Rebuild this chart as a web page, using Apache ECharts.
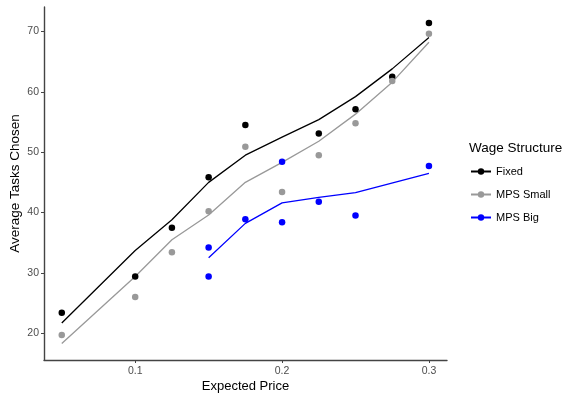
<!DOCTYPE html>
<html>
<head>
<meta charset="utf-8">
<script src="https://cdn.jsdelivr.net/npm/echarts@6/dist/echarts.min.js"></script>
<style>
  html, body { margin: 0; padding: 0; background: #fff; }
  #chart { width: 567px; height: 398px; }
</style>
</head>
<body>
<div id="chart"></div>
<script>
// Expected price levels shared by the Fixed and MPS Small groups
const prices = [0.05, 0.1, 0.125, 0.15, 0.175, 0.2, 0.225, 0.25, 0.275, 0.3];

// Observed averages (points)
const fixedPoints = [[0.05, 23.4], [0.1, 29.4], [0.125, 37.5], [0.15, 45.85], [0.175, 54.5],
                     [0.225, 53.1], [0.25, 57.1], [0.275, 62.5], [0.3, 71.4]];
const smallPoints = [[0.05, 19.7], [0.1, 26.0], [0.125, 33.4], [0.15, 40.2], [0.175, 50.9],
                     [0.2, 43.4], [0.225, 49.5], [0.25, 54.8], [0.275, 61.8], [0.3, 69.6]];
const bigPoints = [[0.15, 34.2], [0.15, 29.4], [0.175, 38.9], [0.2, 48.4], [0.2, 38.4],
                   [0.225, 41.8], [0.25, 39.5], [0.3, 47.7]];

// Fitted values (lines)
const fixedFit = [21.7, 33.7, 38.8, 45.0, 49.5, 52.5, 55.4, 59.2, 63.8, 69.0];
const smallFit = [18.3, 29.4, 35.5, 39.6, 45.0, 48.3, 51.8, 56.3, 61.6, 68.2];
const bigPrices = [0.15, 0.175, 0.2, 0.225, 0.25, 0.3];
const bigFit = [32.5, 38.2, 41.6, 42.5, 43.3, 46.5];

// Axis tick labels
const xTicks = [0.1, 0.2, 0.3];
const yTicks = [20, 30, 40, 50, 60, 70];

const groups = ['Fixed', 'MPS Small', 'MPS Big'];
const colors = ['#000000', '#999999', '#0000ff'];

function zip(xs, ys) { return xs.map((x, i) => [x, ys[i]]); }

const fits = [zip(prices, fixedFit), zip(prices, smallFit), zip(bigPrices, bigFit)];
const pts = [fixedPoints, smallPoints, bigPoints];

const series = [];
groups.forEach((g, i) => {
  series.push({
    name: g, type: 'line', data: fits[i],
    symbol: 'circle', symbolSize: 6, showSymbol: false,
    lineStyle: { color: colors[i], width: 1.3 },
    itemStyle: { color: colors[i] },
    silent: true, animation: false, z: 2
  });
  series.push({
    name: g, type: 'scatter', data: pts[i],
    symbol: 'circle', symbolSize: 6.5,
    itemStyle: { color: colors[i], opacity: 1 },
    animation: false, z: 3
  });
});

const axisColor = '#444444';
const chart = echarts.init(document.getElementById('chart'), null, { renderer: 'canvas' });
chart.setOption({
  backgroundColor: '#ffffff',
  animation: false,
  textStyle: { fontFamily: 'Liberation Sans, Arial, sans-serif' },
  grid: { left: 44, right: 120, top: 7, bottom: 38, containLabel: false, outerBoundsMode: 'none' },
  title: {
    text: 'Wage Structure', left: 469, top: 141, padding: 0,
    textStyle: { fontSize: 13.5, fontWeight: 'normal', color: '#000' }
  },
  legend: {
    data: groups, orient: 'vertical', left: 470, top: 166, padding: 0,
    itemWidth: 20, itemHeight: 8, itemGap: 12,
    textStyle: { fontSize: 11, color: '#000' },
    selectedMode: false
  },
  xAxis: {
    type: 'value', min: 0.0379, max: 0.3123,
    name: 'Expected Price', nameLocation: 'middle', nameGap: 20, nameMoveOverlap: false,
    nameTextStyle: { fontSize: 13, color: '#000' },
    axisLine: { show: true, onZero: false, lineStyle: { color: axisColor, width: 1.4 } },
    axisTick: { show: true, length: 3, lineStyle: { color: axisColor }, customValues: xTicks },
    axisLabel: { color: '#4d4d4d', fontSize: 10.5, margin: 6, customValues: xTicks },
    splitLine: { show: false }
  },
  yAxis: {
    type: 'value', min: 15.57, max: 74.05,
    name: 'Average Tasks Chosen', nameLocation: 'middle', nameGap: 22, nameMoveOverlap: false,
    nameTextStyle: { fontSize: 13.5, color: '#000' },
    axisLine: { show: true, onZero: false, lineStyle: { color: axisColor, width: 1.4 } },
    axisTick: { show: true, length: 3, lineStyle: { color: axisColor }, customValues: yTicks },
    axisLabel: { color: '#4d4d4d', fontSize: 10.5, margin: 5, customValues: yTicks },
    splitLine: { show: false }
  },
  series: series
});
</script>
</body>
</html>
